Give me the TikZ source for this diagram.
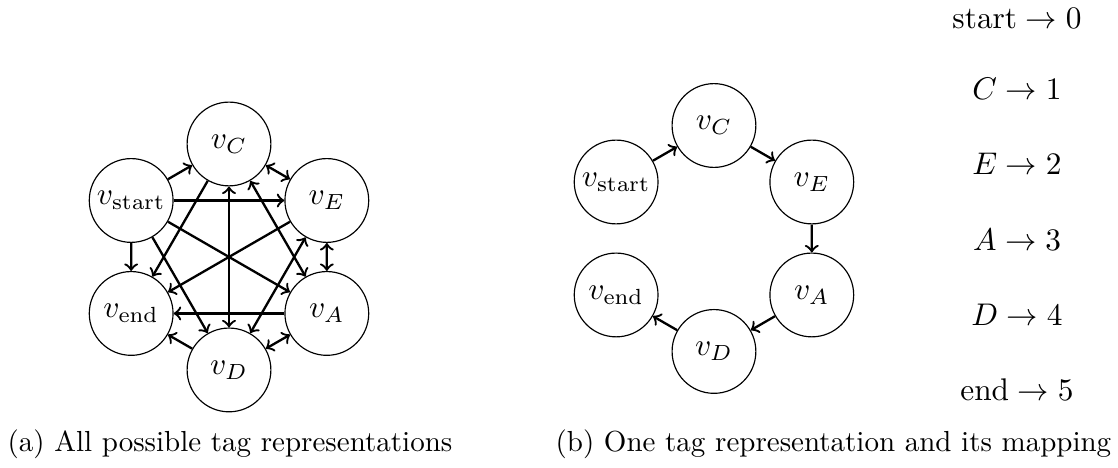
\documentclass[tikz,border=0pt]{standalone}
\usepackage{amsmath}
\usetikzlibrary{positioning}

\begin{document}
\begin{tikzpicture}[tag/.style={circle,draw,scale=1.08,minimum size=0.94cm,inner sep=1pt},
  mapto/.style={anchor=base,scale=1.08,inner sep=0pt},
  link/.style={->,thick},
  both/.style={<->,thick}]
\useasboundingbox (0,0) rectangle (13.548,-5.671);

% all possible tag representations
\begin{scope}[shift={(2.775,-3.114)}]
\node[tag] (C) at (90:1.369) {$v_C$};
\node[tag] (E) at (30:1.369) {$v_E$};
\node[tag] (A) at (-30:1.369) {$v_A$};
\node[tag] (D) at (-90:1.369) {$v_D$};
\node[tag] (End) at (210:1.369) {$v_{\mathrm{end}}$};
\node[tag] (S) at (150:1.369) {$v_{\mathrm{start}}$};
\end{scope}
\draw[link] (S) -- (C);
\draw[link] (S) -- (E);
\draw[link] (S) -- (A);
\draw[link] (S) -- (D);
\draw[link] (S) -- (End);
\draw[both] (C) -- (E);
\draw[both] (C) -- (A);
\draw[both] (C) -- (D);
\draw[link] (C) -- (End);
\draw[both] (E) -- (A);
\draw[both] (E) -- (D);
\draw[link] (E) -- (End);
\draw[both] (A) -- (D);
\draw[link] (A) -- (End);
\draw[link] (D) -- (End);

% one tag representation
\begin{scope}[shift={(8.652,-2.890)}]
\node[tag] (C2) at (90:1.369) {$v_C$};
\node[tag] (E2) at (30:1.369) {$v_E$};
\node[tag] (A2) at (-30:1.369) {$v_A$};
\node[tag] (D2) at (-90:1.369) {$v_D$};
\node[tag] (End2) at (210:1.369) {$v_{\mathrm{end}}$};
\node[tag] (S2) at (150:1.369) {$v_{\mathrm{start}}$};
\end{scope}
\draw[link] (S2) -- (C2);
\draw[link] (C2) -- (E2);
\draw[link] (E2) -- (A2);
\draw[link] (A2) -- (D2);
\draw[link] (D2) -- (End2);

% mapping
\node[mapto] (m0) at (12.324,-0.34) {$\mathrm{start}\rightarrow 0$};
\node[mapto] (m1) at (12.324,-1.200) {$C\rightarrow 1$};
\node[mapto] (m2) at (12.324,-2.109) {$E\rightarrow 2$};
\node[mapto] (m3) at (12.324,-3.030) {$A\rightarrow 3$};
\node[mapto] (m4) at (12.324,-3.950) {$D\rightarrow 4$};
\node[mapto] (m5) at (12.324,-4.859) {$\mathrm{end}\rightarrow 5$};

% captions
\node[anchor=base west,inner sep=0pt] (capa) at (0.085,-5.477) {(a) All possible tag representations};
\node[anchor=base west,inner sep=0pt] (capb) at (6.726,-5.477) {(b) One tag representation and its mapping};

\end{tikzpicture}
\end{document}
